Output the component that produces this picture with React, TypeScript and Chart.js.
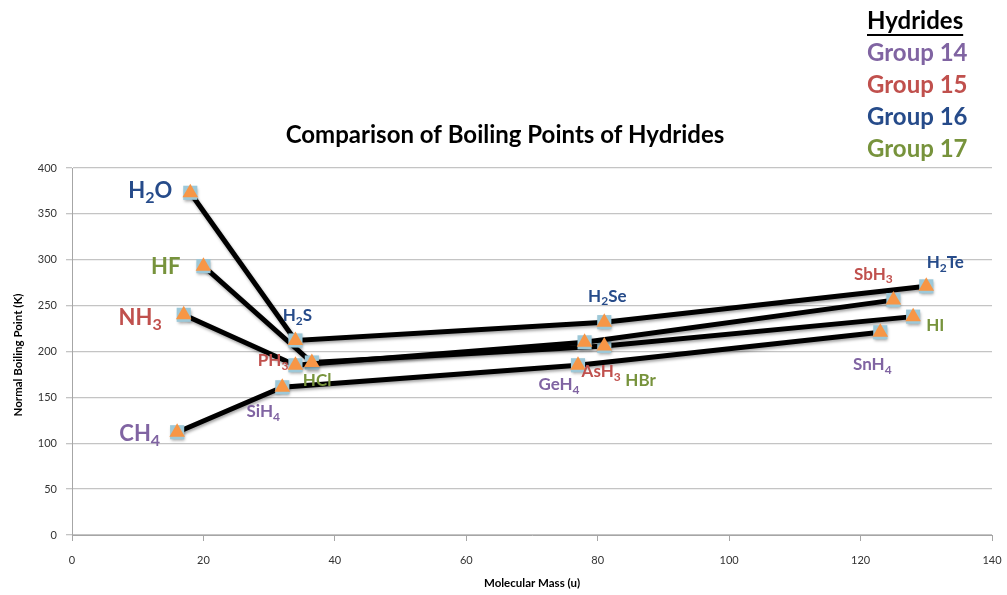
import { useEffect, useRef } from 'react';
import { Chart, registerables } from 'chart.js';

Chart.register(...registerables);

// ---- data ----
const groupLabels = ['Group 14', 'Group 15', 'Group 16', 'Group 17'];

const g14Names = ['CH4', 'SiH4', 'GeH4', 'SnH4'];
const g14Mass = [16, 32, 77, 123];
const g14Bp = [112, 161, 185, 221];

const g15Names = ['NH3', 'PH3', 'AsH3', 'SbH3'];
const g15Mass = [17, 34, 78, 125];
const g15Bp = [240, 185, 210, 256];

const g16Names = ['H2O', 'H2S', 'H2Se', 'H2Te'];
const g16Mass = [18, 34, 81, 130];
const g16Bp = [373, 212, 232, 271];

const g17Names = ['HF', 'HCl', 'HBr', 'HI'];
const g17Mass = [20, 36.5, 81, 128];
const g17Bp = [293, 188, 206, 238];

const xMin = 0;
const xMax = 140;
const xStep = 20;
const yMin = 0;
const yMax = 400;
const yStep = 50;

const chartTitle = 'Comparison of Boiling Points of Hydrides';
const legendHeading = 'Hydrides';
const xTitle = 'Molecular Mass (u)';
const yTitle = 'Normal Boiling Point (K)';

// ---- styles ----
const groupColors = ['#8064A2', '#C0504D', '#264B8A', '#77933C'];
const FONT = 'Lato, "Open Sans", "DejaVu Sans", sans-serif';

// label placement relative to the point: dx, dy (px), align, font size
const labelPlacement: Record<string, [number, number, CanvasTextAlign, number]> = {
  H2O: [-18, -2, 'right', 22],
  HF: [-23, 1, 'right', 22],
  NH3: [-22, 3, 'right', 22],
  CH4: [-17, 2, 'right', 22],
  H2S: [2, -25, 'center', 17],
  PH3: [-7, -5, 'right', 17],
  HCl: [-9, 18, 'left', 17],
  SiH4: [-19, 24, 'center', 17],
  H2Se: [3, -26, 'center', 17],
  GeH4: [-19, 19, 'center', 17],
  AsH3: [-3, 29, 'left', 17],
  HBr: [21, 35, 'left', 17],
  SbH3: [-20, -26, 'center', 17],
  H2Te: [19, -24, 'center', 17],
  HI: [13, 9, 'left', 17],
  SnH4: [-8, 32, 'center', 17],
};

function drawFormula(
  ctx: CanvasRenderingContext2D,
  text: string,
  x: number,
  y: number,
  align: CanvasTextAlign,
  size: number,
  color: string
) {
  const parts = text.split(/(\d+)/).filter((p) => p.length > 0);
  const subSize = Math.round(size * 0.72);
  ctx.save();
  ctx.textBaseline = 'middle';
  ctx.textAlign = 'left';
  ctx.fillStyle = color;
  let total = 0;
  const widths = parts.map((p) => {
    const isSub = /^\d+$/.test(p);
    ctx.font = `bold ${isSub ? subSize : size}px ${FONT}`;
    const w = ctx.measureText(p).width;
    total += w;
    return w;
  });
  let cx = x;
  if (align === 'right') cx = x - total;
  else if (align === 'center') cx = x - total / 2;
  parts.forEach((p, i) => {
    const isSub = /^\d+$/.test(p);
    ctx.font = `bold ${isSub ? subSize : size}px ${FONT}`;
    ctx.fillText(p, cx, isSub ? y + size * 0.32 : y);
    cx += widths[i];
  });
  ctx.restore();
}

const allNames = [g14Names, g15Names, g16Names, g17Names];

const decorPlugin = {
  id: 'decor',
  afterDraw(chart: any) {
    const ctx: CanvasRenderingContext2D = chart.ctx;
    const xs = chart.scales.x;
    const ys = chart.scales.y;
    // title
    ctx.save();
    ctx.fillStyle = '#000';
    ctx.textAlign = 'center';
    ctx.textBaseline = 'middle';
    ctx.font = `bold 24px ${FONT}`;
    ctx.fillText(chartTitle, 505, 135);
    // axis titles
    ctx.font = `bold 11.5px ${FONT}`;
    ctx.fillText(xTitle, 532, 583);
    ctx.translate(18, 355);
    ctx.rotate(-Math.PI / 2);
    ctx.fillText(yTitle, 0, 0);
    ctx.restore();

    // legend block
    ctx.save();
    ctx.textAlign = 'left';
    ctx.textBaseline = 'middle';
    ctx.font = `bold 24px ${FONT}`;
    ctx.fillStyle = '#000';
    ctx.fillText(legendHeading, 867, 21);
    const hw = ctx.measureText(legendHeading).width;
    ctx.strokeStyle = '#000';
    ctx.lineWidth = 2;
    ctx.beginPath();
    ctx.moveTo(867, 35);
    ctx.lineTo(867 + hw, 35);
    ctx.stroke();
    groupLabels.forEach((g, i) => {
      ctx.fillStyle = groupColors[i];
      ctx.fillText(g, 867, 53 + i * 32);
    });
    ctx.restore();

    // point labels
    chart.data.datasets.forEach((ds: any) => {
      if (ds.isMarker) return;
      const names = allNames[ds.groupIndex];
      ds.data.forEach((pt: any, i: number) => {
        const name = names[i];
        const pl = labelPlacement[name];
        if (!pl) return;
        const px = xs.getPixelForValue(pt.x);
        const py = ys.getPixelForValue(pt.y);
        drawFormula(ctx, name, px + pl[0], py + pl[1], pl[2], pl[3], groupColors[ds.groupIndex]);
      });
    });
  },
};

const lineShadowPlugin = {
  id: 'lineShadow',
  beforeDatasetDraw(chart: any, args: any) {
    const ds = chart.data.datasets[args.index];
    if (ds.isMarker) return;
    const ctx = chart.ctx;
    ctx.save();
    ctx.shadowColor = 'rgba(0,0,0,0.35)';
    ctx.shadowBlur = 3;
    ctx.shadowOffsetX = 1;
    ctx.shadowOffsetY = 2;
  },
  afterDatasetDraw(chart: any, args: any) {
    const ds = chart.data.datasets[args.index];
    if (ds.isMarker) return;
    chart.ctx.restore();
  },
};

export default function App() {
  const ref = useRef<HTMLCanvasElement>(null);
  useEffect(() => {
    if (!ref.current) return;
    const groups = [
      [g14Mass, g14Bp],
      [g15Mass, g15Bp],
      [g16Mass, g16Bp],
      [g17Mass, g17Bp],
    ];
    const toPts = (m: number[], b: number[]) => m.map((x, i) => ({ x, y: b[i] }));
    const lineSets = groups.map(([m, b], gi) => ({
      label: groupLabels[gi],
      groupIndex: gi,
      isMarker: false,
      data: toPts(m, b),
      showLine: true,
      borderColor: '#000',
      borderWidth: 5,
      pointStyle: 'rect',
      pointRadius: 10,
      pointBackgroundColor: '#9DC8D8',
      pointBorderWidth: 0,
      order: 2,
    }));
    const markerSets = groups.map(([m, b], gi) => ({
      label: groupLabels[gi] + ' markers',
      groupIndex: gi,
      isMarker: true,
      data: toPts(m, b),
      showLine: false,
      pointStyle: 'triangle',
      pointRadius: 9,
      pointBackgroundColor: '#F79646',
      pointBorderWidth: 0,
      order: 1,
    }));
    const chart = new Chart(ref.current, {
      type: 'line',
      data: { datasets: [...lineSets, ...markerSets] as any },
      options: {
        animation: false,
        responsive: false,
        devicePixelRatio: 1,
        layout: { padding: { top: 168, right: 15, bottom: 0, left: 0 } },
        plugins: {
          legend: { display: false },
          tooltip: { enabled: false },
          title: { display: false },
        },
        scales: {
          x: {
            type: 'linear',
            min: xMin,
            max: xMax,
            ticks: {
              stepSize: xStep,
              padding: 13,
              color: '#333',
              font: { family: FONT, size: 11 },
            },
            grid: {
              drawOnChartArea: false,
              drawTicks: true,
              tickLength: 6,
              color: '#A6A6A6',
            },
            border: { display: true, color: '#A6A6A6', width: 1 },
            afterFit: (s: any) => {
              s.height = 60;
              s.paddingRight = 0;
              s.paddingLeft = 0;
            },
          },
          y: {
            type: 'linear',
            min: yMin,
            max: yMax,
            ticks: {
              stepSize: yStep,
              padding: 9,
              color: '#333',
              font: { family: FONT, size: 11 },
            },
            grid: {
              drawTicks: true,
              tickLength: 6,
              color: '#C4C4C4',
              lineWidth: 1.3,
            },
            border: { display: true, color: '#A6A6A6', width: 1 },
            afterFit: (s: any) => {
              s.width = 72;
              s.paddingTop = 0;
              s.paddingBottom = 0;
            },
          },
        },
      } as any,
      plugins: [lineShadowPlugin, decorPlugin],
    });
    return () => chart.destroy();
  }, []);
  return (
    <div style={{ position: 'absolute', left: 0, top: 0, width: 1007, height: 595, background: '#fff' }}>
      <canvas ref={ref} width={1007} height={595} style={{ width: 1007, height: 595 }} />
    </div>
  );
}
